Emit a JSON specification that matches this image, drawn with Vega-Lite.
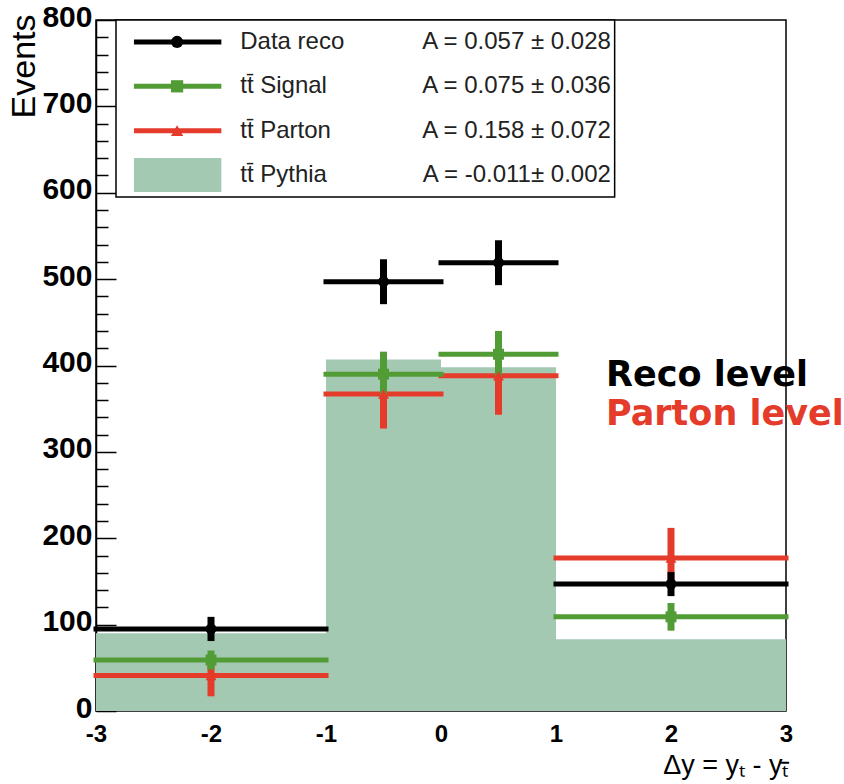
{
  "$schema": "https://vega.github.io/schema/vega-lite/v6.json",
  "width": 690,
  "height": 691,
  "autosize": {"type": "none"},
  "padding": {"left": 96, "top": 20, "right": 58, "bottom": 73},
  "background": "white",
  "config": {"view": {"stroke": "black", "strokeWidth": 1.5}, "font": "Liberation Sans"},
  "datasets": {
    "hist": [
      {"series": "Parton", "lo": -3, "hi": -1, "xc": -2, "v": 41, "elo": 17, "ehi": 65},
      {"series": "Parton", "lo": -1, "hi": 0, "xc": -0.5, "v": 367, "elo": 327, "ehi": 407},
      {"series": "Parton", "lo": 0, "hi": 1, "xc": 0.5, "v": 388, "elo": 343, "ehi": 433},
      {"series": "Parton", "lo": 1, "hi": 3, "xc": 2, "v": 177, "elo": 142, "ehi": 212},
      {"series": "Signal", "lo": -3, "hi": -1, "xc": -2, "v": 59, "elo": 48, "ehi": 70},
      {"series": "Signal", "lo": -1, "hi": 0, "xc": -0.5, "v": 390, "elo": 364, "ehi": 416},
      {"series": "Signal", "lo": 0, "hi": 1, "xc": 0.5, "v": 413, "elo": 386, "ehi": 440},
      {"series": "Signal", "lo": 1, "hi": 3, "xc": 2, "v": 109, "elo": 93, "ehi": 125},
      {"series": "Data", "lo": -3, "hi": -1, "xc": -2, "v": 95, "elo": 81, "ehi": 109},
      {"series": "Data", "lo": -1, "hi": 0, "xc": -0.5, "v": 497, "elo": 471, "ehi": 523},
      {"series": "Data", "lo": 0, "hi": 1, "xc": 0.5, "v": 519, "elo": 493, "ehi": 545},
      {"series": "Data", "lo": 1, "hi": 3, "xc": 2, "v": 147, "elo": 133, "ehi": 161}
    ],
    "pythia": [
      {"lo": -3, "hi": -1, "v": 90},
      {"lo": -1, "hi": 0, "v": 407},
      {"lo": 0, "hi": 1, "v": 398},
      {"lo": 1, "hi": 3, "v": 83}
    ],
    "legend": [
      {"series": "Data", "label": "Data reco", "atext": "A = 0.057 ± 0.028", "rank": 1},
      {"series": "Signal", "label": "tt̄ Signal", "atext": "A = 0.075 ± 0.036", "rank": 2},
      {"series": "Parton", "label": "tt̄ Parton", "atext": "A = 0.158 ± 0.072", "rank": 3},
      {"series": "Pythia", "label": "tt̄ Pythia", "atext": "A = -0.011± 0.002", "rank": 4}
    ]
  },
  "layer": [
    {
      "layer": [
        {
          "data": {"name": "pythia"},
          "mark": {"type": "rect", "fill": "#a4c9b3"},
          "encoding": {
            "x": {"field": "lo", "type": "quantitative",
              "scale": {"domain": [-3, 3], "nice": false, "zero": false},
              "axis": {"values": [-3, -2, -1, 0, 1, 2, 3], "labelExpr": "datum.value < 0 ? '-' + abs(datum.value) : '' + datum.value",
                "ticks": false, "domain": false, "grid": false,
                "labelFontSize": 24, "labelFontWeight": "bold", "labelPadding": 11, "labelColor": "black",
                "labelFlush": false, "labelOverlap": false,
                "title": "Δy = yₜ - yₜ̄", "titleFontSize": 27, "titleFontWeight": "normal", "titleColor": "black",
                "titleAnchor": "end", "titleAlign": "right", "titleX": 692, "titleY": 62, "titleBaseline": "alphabetic"}},
            "x2": {"field": "hi"},
            "y": {"field": "v", "type": "quantitative",
              "scale": {"domain": [0, 800], "nice": false},
              "axis": {"orient": "left", "values": [0, 100, 200, 300, 400, 500, 600, 700, 800], "format": "d",
                "ticks": false, "domain": true, "domainColor": "black", "domainWidth": 1.5, "grid": false,
                "labelFontSize": 30, "labelFontWeight": "bold", "labelColor": "black", "labelPadding": 4, "labelOffset": -3,
                "labelFlush": false, "labelOverlap": false, "labelBound": false,
                "title": "Events", "titleFontSize": 34, "titleFontWeight": "normal", "titleColor": "black",
                "titleAngle": -90, "titleAnchor": "end", "titleAlign": "right", "titleBaseline": "middle",
                "titleX": -72, "titleY": -6}},
            "y2": {"datum": 0}
          }
        },
        {
          "data": {"name": "pythia"},
          "mark": {"type": "rect", "fill": "white", "stroke": "black", "strokeWidth": 1.5},
          "encoding": {
            "x": {"datum": -2.826, "type": "quantitative"},
            "x2": {"datum": 1.51},
            "y": {"datum": 800, "type": "quantitative", "axis": null},
            "y2": {"datum": 595}
          },
          "transform": [{"filter": "datum.lo == -3"}]
        },
        {
          "data": {"name": "hist"},
          "mark": {"type": "rule", "strokeCap": "square"},
          "encoding": {
            "x": {"field": "lo", "type": "quantitative"},
            "x2": {"field": "hi"},
            "y": {"field": "v", "type": "quantitative",
              "axis": {"orient": "left", "values": [0, 100, 200, 300, 400, 500, 600, 700, 800], "labels": false,
                "domain": false, "grid": false, "ticks": true, "tickSize": -20, "tickWidth": 1.5, "tickColor": "black", "title": null}},
            "color": {"field": "series", "type": "nominal",
              "scale": {"domain": ["Parton", "Signal", "Data"], "range": ["#e53b2b", "#529c36", "#000000"]}, "legend": null},
            "strokeWidth": {"field": "series", "type": "nominal",
              "scale": {"domain": ["Parton", "Signal", "Data"], "range": [5, 5, 6]}, "legend": null}
          }
        },
        {
          "data": {"name": "hist"},
          "mark": {"type": "rule", "strokeWidth": 7},
          "encoding": {
            "x": {"field": "xc", "type": "quantitative"},
            "y": {"field": "elo", "type": "quantitative",
              "axis": {"orient": "left", "values": [20, 40, 60, 80, 120, 140, 160, 180, 220, 240, 260, 280, 320, 340, 360, 380, 420, 440, 460, 480, 520, 540, 560, 580, 620, 640, 660, 680, 720, 740, 760, 780],
                "labels": false, "domain": false, "grid": false, "ticks": true, "tickSize": -12, "tickWidth": 1.5, "tickColor": "black", "title": null}},
            "y2": {"field": "ehi"},
            "color": {"field": "series", "type": "nominal", "legend": null}
          }
        },
        {
          "data": {"name": "hist"},
          "mark": {"type": "point", "filled": true, "opacity": 1, "size": 120},
          "encoding": {
            "x": {"field": "xc", "type": "quantitative"},
            "y": {"field": "v", "type": "quantitative", "axis": null},
            "color": {"field": "series", "type": "nominal", "legend": null},
            "shape": {"field": "series", "type": "nominal",
              "scale": {"domain": ["Parton", "Signal", "Data"], "range": ["triangle-up", "square", "circle"]}, "legend": null}
          }
        },
        {
          "data": {"name": "pythia"},
          "transform": [{"filter": "datum.lo == -3"}],
          "mark": {"type": "text", "text": "Reco level", "align": "left", "baseline": "middle", "font": "DejaVu Sans", "fontSize": 35, "fontWeight": "bold", "color": "black"},
          "encoding": {
            "x": {"datum": 1.435, "type": "quantitative"},
            "y": {"datum": 389, "type": "quantitative", "axis": null}
          }
        },
        {
          "data": {"name": "pythia"},
          "transform": [{"filter": "datum.lo == -3"}],
          "mark": {"type": "text", "text": "Parton level", "align": "left", "baseline": "middle", "font": "DejaVu Sans", "fontSize": 35, "fontWeight": "bold", "color": "#e53b2b"},
          "encoding": {
            "x": {"datum": 1.435, "type": "quantitative"},
            "y": {"datum": 344, "type": "quantitative", "axis": null}
          }
        }
      ],
      "resolve": {"axis": {"y": "independent"}}
    },
    {
      "data": {"name": "legend"},
      "layer": [
        {
          "transform": [{"filter": "datum.series != 'Pythia'"}],
          "mark": {"type": "rule"},
          "encoding": {
            "x": {"datum": -2.67, "type": "quantitative"},
            "x2": {"datum": -1.91},
            "y": {"field": "rank", "type": "quantitative", "scale": {"domain": [0.504, 16.09], "reverse": true, "nice": false, "zero": false}, "axis": null},
            "color": {"field": "series", "type": "nominal", "legend": null},
            "strokeWidth": {"field": "series", "type": "nominal", "legend": null}
          }
        },
        {
          "transform": [{"filter": "datum.series == 'Pythia'"}],
          "mark": {"type": "rule", "strokeWidth": 34, "color": "#a4c9b3"},
          "encoding": {
            "x": {"datum": -2.67, "type": "quantitative"},
            "x2": {"datum": -1.91},
            "y": {"field": "rank", "type": "quantitative", "axis": null}
          }
        },
        {
          "transform": [{"filter": "datum.series != 'Pythia'"}],
          "mark": {"type": "point", "filled": true, "opacity": 1, "size": 150},
          "encoding": {
            "x": {"datum": -2.295, "type": "quantitative"},
            "y": {"field": "rank", "type": "quantitative", "axis": null},
            "color": {"field": "series", "type": "nominal", "legend": null},
            "shape": {"field": "series", "type": "nominal", "legend": null}
          }
        },
        {
          "mark": {"type": "text", "align": "left", "baseline": "middle", "fontSize": 24, "color": "#222222"},
          "encoding": {
            "x": {"datum": -1.746, "type": "quantitative"},
            "y": {"field": "rank", "type": "quantitative", "axis": null},
            "text": {"field": "label"}
          }
        },
        {
          "mark": {"type": "text", "align": "right", "baseline": "middle", "fontSize": 24, "color": "#222222"},
          "encoding": {
            "x": {"datum": 1.477, "type": "quantitative"},
            "y": {"field": "rank", "type": "quantitative", "axis": null},
            "text": {"field": "atext"}
          }
        }
      ]
    }
  ],
  "resolve": {"scale": {"y": "independent"}}
}
